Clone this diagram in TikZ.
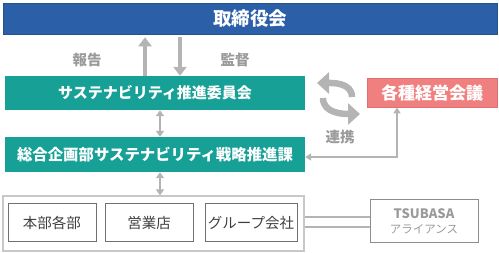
\documentclass[tikz,border=0pt]{standalone}
\usepackage{fontspec}
\setmainfont{Noto Sans CJK JP}
\usetikzlibrary{arrows.meta,calc}
\definecolor{topblue}{HTML}{2B5FA8}
\definecolor{tealc}{HTML}{17A096}
\definecolor{redfill}{HTML}{F08080}
\definecolor{redline}{HTML}{E06E72}
\definecolor{arrowgray}{HTML}{B4B4B4}
\definecolor{labgray}{HTML}{9A9A9A}
\definecolor{boxline}{HTML}{707070}
\definecolor{outerline}{HTML}{C8C8C8}
\definecolor{txtdark}{HTML}{404040}
\begin{document}
\begin{tikzpicture}[x=1pt,y=-1pt,
  solidbox/.style={rectangle,inner sep=0pt,text=white,font=\bfseries},
  unitbox/.style={rectangle,inner sep=0pt,draw=boxline,line width=1pt,minimum height=38pt,text=txtdark,font=\fontsize{14.5}{17}\selectfont},
  biglink/.style={draw=arrowgray,line width=4pt,-{Triangle[length=9pt,width=13pt]}},
  dbllink/.style={draw=arrowgray,line width=2.5pt,{Triangle[length=6pt,width=8pt]}-{Triangle[length=6pt,width=8pt]}},
  lab/.style={text=labgray,font=\bfseries\fontsize{14.5}{17}\selectfont}]
\useasboundingbox (0,0) rectangle (499,253);
\node[solidbox,fill=topblue,draw=topblue!85!black,line width=0.6pt,minimum width=494pt,minimum height=31pt,font=\bfseries\fontsize{18.5}{21}\selectfont] (top) at (250,18.5) {取締役会};
\node[solidbox,fill=tealc,minimum width=300pt,minimum height=34pt,font=\bfseries\fontsize{15}{18}\selectfont] (teal1) at (155,93) {サステナビリティ推進委員会};
\node[solidbox,fill=redfill,draw=redline,line width=0.8pt,minimum width=130pt,minimum height=29pt,font=\bfseries\fontsize{17}{20}\selectfont] (red) at (432,92.5) {各種経営会議};
\node[solidbox,fill=tealc,minimum width=300pt,minimum height=35pt,font=\bfseries\fontsize{15.4}{18}\selectfont] (teal2) at (155,154.5) {総合企画部サステナビリティ戦略推進課};
\node[rectangle,draw=outerline,line width=1.2pt,minimum width=301pt,minimum height=55pt,inner sep=0pt] (group) at (153.5,223.5) {};
\node[unitbox,minimum width=88pt] (b1) at (52,223) {本部各部};
\node[unitbox,minimum width=88pt] (b2) at (149,223) {営業店};
\node[unitbox,minimum width=92pt] (b3) at (251,223) {グループ会社};
\node[rectangle,draw=boxline!80,line width=1pt,minimum width=108pt,minimum height=43pt,inner sep=0pt,text=labgray,align=center,font=\fontsize{11.5}{15.5}\selectfont] (tsu) at (424,221.5) {{\bfseries\fontsize{13}{15.5}\selectfont TSUBASA}\\アライアンス};
\node[lab] (report) at (87,60) {報告};
\node[lab] (audit) at (235,60) {監督};
\node[lab] (renkei) at (340,137) {連携};
% arrows top <-> teal1
\coordinate (ux) at (145,0);
\coordinate (dx) at (180,0);
\coordinate (mx) at (160,0);
\coordinate (rx) at (397,0);
\coordinate (hy) at (0,157);
\draw[biglink,shorten >=3pt] (teal1.north -| ux) -- (top.south -| ux);
\draw[biglink,shorten <=3pt] (top.south -| dx) -- (teal1.north -| dx);
% vertical double arrows
\draw[dbllink] (teal1.south -| mx) -- (teal2.north -| mx);
\draw[dbllink] (teal2.south -| mx) -- (group.north -| mx);
% red <-> teal2
\coordinate (corner) at (rx |- hy);
\draw[draw=arrowgray,line width=1.8pt,{Triangle[length=6pt,width=7pt]}-{Triangle[length=6pt,width=7pt]}] (red.south -| rx) -- (corner) -- (teal2.east |- hy);
% curved arrows
\draw[draw=arrowgray,line width=6.5pt,-{Triangle[length=12pt,width=21pt]}] (352,97) to[out=90,in=0] (317,83);
\draw[draw=arrowgray,line width=6.5pt,-{Triangle[length=12pt,width=21pt]}] (323,98) to[out=-90,in=180] (360,114);
% double lines to TSUBASA
\draw[draw=arrowgray,line width=2.5pt] (group.east |- {0,217}) -- (tsu.west |- {0,217});
\draw[draw=arrowgray,line width=2.5pt] (group.east |- {0,227}) -- (tsu.west |- {0,227});
\end{tikzpicture}
\end{document}
